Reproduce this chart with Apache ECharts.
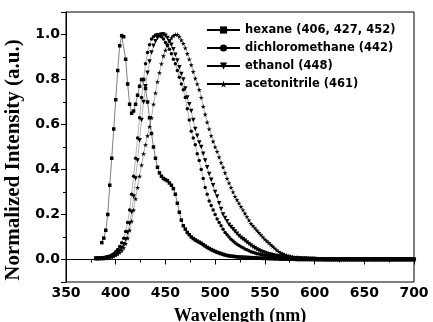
<!DOCTYPE html>
<html>
<head>
<meta charset="utf-8">
<script src="https://cdn.jsdelivr.net/npm/echarts@6/dist/echarts.min.js"></script>
<style>html,body{margin:0;padding:0;background:#fff;}#c{width:433px;height:322px;}</style>
</head>
<body>
<div id="c"></div>
<script>
// Wavelength grid (nm), 2 nm step
const wavelengths = [380,382,384,386,388,390,392,394,396,398,
400,402,404,406,408,410,412,414,416,418,
420,422,424,426,428,430,432,434,436,438,
440,442,444,446,448,450,452,454,456,458,
460,462,464,466,468,470,472,474,476,478,
480,482,484,486,488,490,492,494,496,498,
500,502,504,506,508,510,512,514,516,518,
520,522,524,526,528,530,532,534,536,538,
540,542,544,546,548,550,552,554,556,558,
560,562,564,566,568,570,572,574,576,578,
580,582,584,586,588,590,592,594,596,598,
600,602,604,606,608,610,612,614,616,618,
620,622,624,626,628,630,632,634,636,638,
640,642,644,646,648,650,652,654,656,658,
660,662,664,666,668,670,672,674,676,678,
680,682,684,686,688,690,692,694,696,698,700];

const seriesNames = ['hexane (406, 427, 452)', 'dichloromethane (442)', 'ethanol (448)', 'acetonitrile (461)'];

const hexane = [null,null,null,0.075,0.095,0.13,0.20,0.33,0.45,0.58,
0.71,0.84,0.95,0.995,0.99,0.89,0.78,0.69,0.65,0.66,
0.69,0.73,0.77,0.80,0.80,0.76,0.70,0.63,0.56,0.50,
0.45,0.41,0.385,0.37,0.36,0.355,0.35,0.34,0.33,0.315,
0.29,0.25,0.21,0.175,0.15,0.135,0.12,0.11,0.10,0.093,
0.087,0.082,0.077,0.072,0.066,0.06,0.054,0.049,0.044,0.04,
0.036,0.032,0.029,0.026,0.023,0.02,0.018,0.016,0.015,0.014,
0.013,0.012,0.011,0.011,0.01,0.01,0.009,0.009,0.008,0.008,
0.007,0.007,0.006,0.006,0.005,0.005,0.005,0.004,0.004,0.004,
0.003,0.003,0.003,0.002,0.002,0.002,0.002,0.001,0.001,0.001,
0.001,0,0,0,0,0,0,0,0,0,
0,0,0,0,0,0,0,0,0,0,
0,0,0,0,0,0,0,0,0,0,
0,0,0,0,0,0,0,0,0,0,
0,0,0,0,0,0,0,0,0,0,
0,0,0,0,0,0,0,0,0,0,0];

const dichloromethane = [0.005,0.005,0.006,0.007,0.008,0.01,0.012,0.015,0.02,0.026,
0.035,0.045,0.058,0.075,0.095,0.125,0.165,0.22,0.29,0.37,
0.45,0.54,0.63,0.72,0.80,0.87,0.92,0.955,0.98,0.99,
0.998,1.0,0.998,0.99,0.98,0.965,0.95,0.935,0.915,0.89,
0.87,0.84,0.81,0.78,0.755,0.72,0.67,0.62,0.57,0.54,
0.51,0.47,0.44,0.40,0.36,0.32,0.29,0.26,0.24,0.22,
0.20,0.18,0.165,0.15,0.135,0.12,0.11,0.10,0.09,0.082,
0.075,0.068,0.062,0.057,0.052,0.047,0.043,0.039,0.035,0.032,
0.029,0.026,0.024,0.022,0.02,0.018,0.016,0.014,0.013,0.012,
0.011,0.01,0.009,0.008,0.007,0.006,0.006,0.005,0.005,0.004,
0.004,0.003,0.003,0.003,0.002,0.002,0.002,0.002,0.001,0.001,
0.001,0,0,0,0,0,0,0,0,0,
0,0,0,0,0,0,0,0,0,0,
0,0,0,0,0,0,0,0,0,0,
0,0,0,0,0,0,0,0,0,0,
0,0,0,0,0,0,0,0,0,0,0];

const ethanol = [0.004,0.004,0.005,0.005,0.006,0.007,0.009,0.011,0.014,0.018,
0.024,0.031,0.04,0.052,0.068,0.09,0.12,0.16,0.21,0.28,
0.36,0.44,0.53,0.62,0.70,0.77,0.83,0.88,0.92,0.95,
0.97,0.985,0.995,1.0,1.0,0.995,0.985,0.97,0.955,0.935,
0.91,0.885,0.855,0.825,0.80,0.76,0.72,0.69,0.66,0.62,
0.58,0.55,0.52,0.50,0.47,0.44,0.41,0.38,0.355,0.33,
0.30,0.28,0.25,0.225,0.20,0.185,0.17,0.155,0.145,0.135,
0.125,0.115,0.105,0.097,0.09,0.083,0.076,0.069,0.062,0.056,
0.05,0.045,0.04,0.036,0.032,0.029,0.026,0.023,0.021,0.019,
0.017,0.015,0.013,0.012,0.011,0.01,0.009,0.008,0.007,0.006,
0.005,0.005,0.004,0.004,0.003,0.003,0.003,0.002,0.002,0.002,
0.002,0.001,0.001,0.001,0,0,0,0,0,0,
0,0,0,0,0,0,0,0,0,0,
0,0,0,0,0,0,0,0,0,0,
0,0,0,0,0,0,0,0,0,0,
0,0,0,0,0,0,0,0,0,0,0];

const acetonitrile = [0.004,0.004,0.005,0.005,0.006,0.007,0.008,0.01,0.012,0.015,
0.019,0.024,0.031,0.04,0.052,0.07,0.095,0.13,0.17,0.22,
0.27,0.32,0.37,0.42,0.47,0.51,0.55,0.59,0.63,0.69,
0.74,0.79,0.83,0.87,0.905,0.93,0.955,0.97,0.985,0.995,
1.0,1.0,0.99,0.975,0.96,0.94,0.915,0.89,0.865,0.835,
0.805,0.78,0.755,0.72,0.68,0.645,0.61,0.58,0.55,0.525,
0.50,0.48,0.455,0.43,0.41,0.385,0.36,0.34,0.32,0.30,
0.28,0.265,0.25,0.235,0.22,0.205,0.19,0.175,0.16,0.15,
0.14,0.13,0.12,0.11,0.10,0.09,0.082,0.074,0.066,0.058,
0.05,0.042,0.035,0.03,0.026,0.022,0.019,0.016,0.014,0.012,
0.01,0.009,0.008,0.007,0.006,0.005,0.005,0.004,0.004,0.003,
0.003,0.002,0.002,0.002,0.001,0.001,0.001,0,0,0,
0,0,0,0,0,0,0,0,0,0,
0,0,0,0,0,0,0,0,0,0,
0,0,0,0,0,0,0,0,0,0,
0,0,0,0,0,0,0,0,0,0,0];

const xTicks = {min: 350, max: 700, step: 50};
const yRange = {min: -0.1, max: 1.1};

function pairs(vals) {
  const out = [];
  for (let i = 0; i < wavelengths.length; i++) {
    if (vals[i] !== null && vals[i] !== undefined) out.push([wavelengths[i], vals[i]]);
  }
  return out;
}

const STAR = 'path://M50,0 L61,35 L98,35 L68,57 L79,91 L50,70 L21,91 L32,57 L2,35 L39,35 Z';
const symbols = ['rect', 'circle', 'triangle', STAR];
const rotates = [0, 0, 180, 0];
const sizes = [3.5, 3.5, 4.5, 5];
const allData = [hexane, dichloromethane, ethanol, acetonitrile];

const chart = echarts.init(document.getElementById('c'), null, {renderer: 'canvas'});
const bold = {fontFamily: 'DejaVu Sans', fontWeight: 'bold', color: '#000'};

chart.setOption({
  animation: false,
  backgroundColor: '#fff',
  grid: {left: 66, right: 19, top: 12, bottom: 40, show: true, borderColor: '#000', borderWidth: 1,
         containLabel: false, outerBoundsMode: 'none'},
  legend: {
    orient: 'vertical', left: 201, top: 19, itemWidth: 33, itemHeight: 9, itemGap: 6,
    textStyle: Object.assign({fontSize: 11.5}, bold),
    data: seriesNames
  },
  xAxis: {
    type: 'value', min: xTicks.min, max: xTicks.max, interval: xTicks.step,
    name: 'Wavelength (nm)', nameLocation: 'middle', nameGap: 25,
    nameTextStyle: {fontFamily: 'Liberation Serif', fontWeight: 'bold', fontSize: 18, color: '#000'},
    axisLine: {lineStyle: {color: '#000', width: 1}},
    axisTick: {inside: false, length: 5, lineStyle: {color: '#000'}},
    minorTick: {show: true, splitNumber: 2, length: 3, lineStyle: {color: '#000'}},
    splitLine: {show: false},
    axisLabel: Object.assign({fontSize: 14, margin: 4}, bold)
  },
  yAxis: {
    type: 'value', min: yRange.min, max: yRange.max, splitNumber: 6,
    name: 'Normalized Intensity (a.u.)', nameLocation: 'middle', nameGap: 35, nameRotate: 90,
    nameTextStyle: {fontFamily: 'Liberation Serif', fontWeight: 'bold', fontSize: 21, color: '#000',
                    padding: [0, 26, 0, 0]},
    axisLine: {show: true, lineStyle: {color: '#000', width: 1}},
    axisTick: {show: true, inside: false, length: 5, lineStyle: {color: '#000'}},
    minorTick: {show: true, splitNumber: 2, length: 3, lineStyle: {color: '#000'}},
    splitLine: {show: false},
    axisLabel: Object.assign({fontSize: 14, margin: 6, formatter: function (v) {
      if (v < -0.05 || v > 1.05) return '';
      return v.toFixed(1);
    }}, bold)
  },
  series: seriesNames.map(function (name, i) {
    return {
      name: name, type: 'line', data: pairs(allData[i]),
      symbol: symbols[i], symbolRotate: rotates[i], symbolSize: sizes[i],
      showSymbol: true, showAllSymbol: true,
      itemStyle: {color: '#000'},
      lineStyle: {color: '#000', width: i === 0 ? 0.5 : 0.3},
      emphasis: {disabled: true}
    };
  })
});
</script>
</body>
</html>
